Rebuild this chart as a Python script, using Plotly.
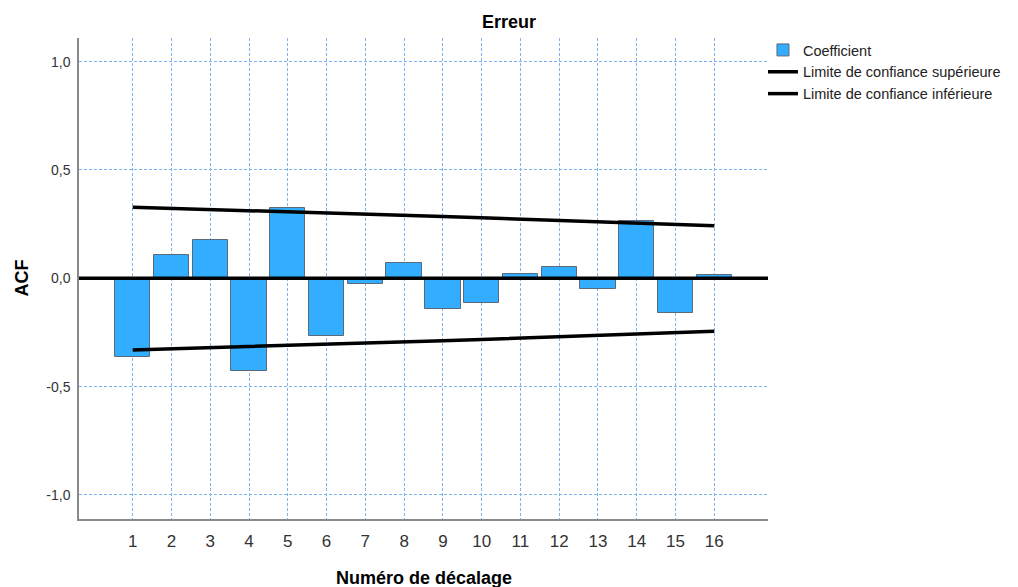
import plotly.graph_objects as go

# Autocorrelation of the error series, lags 1..16
lags = list(range(1, 17))
acf = [-0.365, 0.108, 0.178, -0.426, 0.323, -0.268, -0.028, 0.071,
       -0.143, -0.115, 0.020, 0.054, -0.048, 0.264, -0.162, 0.014]
upper_limit = [0.328, 0.323, 0.318, 0.313, 0.307, 0.302, 0.296, 0.291,
               0.285, 0.279, 0.273, 0.267, 0.261, 0.255, 0.249, 0.243]
lower_limit = [-0.331, -0.326, -0.321, -0.316, -0.310, -0.305, -0.299, -0.294,
               -0.288, -0.282, -0.276, -0.270, -0.264, -0.258, -0.251, -0.245]

y_tick_vals = [-1.0, -0.5, 0.0, 0.5, 1.0]
y_tick_text = ["-1,0", "-0,5", "0,0", "0,5", "1,0"]
x_tick_text = [str(v) for v in lags]

FONT = "Liberation Sans, Arial, sans-serif"
GRID = "#7fb3ee"
BAR = "#33adff"

fig = go.Figure()
fig.add_trace(go.Bar(
    x=lags, y=acf, name="Coefficient", width=0.91,
    marker=dict(color=BAR, line=dict(color="#5a6a78", width=1)),
))
fig.add_trace(go.Scatter(
    x=lags, y=upper_limit, mode="lines", name="Limite de confiance supérieure",
    line=dict(color="black", width=3.5),
))
fig.add_trace(go.Scatter(
    x=lags, y=lower_limit, mode="lines", name="Limite de confiance inférieure",
    line=dict(color="black", width=3.5),
))

# reference line at zero across the whole plot
fig.add_shape(type="line", xref="paper", x0=0, x1=1, yref="y", y0=0, y1=0,
              line=dict(color="black", width=3.5), layer="above")

fig.update_layout(
    width=1018, height=587,
    margin=dict(l=79, r=250, t=38, b=68, pad=0, autoexpand=False),
    paper_bgcolor="white", plot_bgcolor="white",
    font=dict(family=FONT, color="#222"),
    title=dict(text="<b>Erreur</b>", x=0.5, xref="container", xanchor="center",
               y=1 - 22 / 587, yref="container", yanchor="middle",
               font=dict(size=18, color="black", family=FONT)),
    showlegend=True,
    legend=dict(x=0.9927, xanchor="left", y=1.0 + 4 / 481, yanchor="top",
                font=dict(size=14.5, color="#222", family=FONT),
                bgcolor="rgba(0,0,0,0)", borderwidth=0, tracegroupgap=0),
    bargap=0,
    xaxis=dict(range=[-0.385, 17.385], tickvals=lags, ticktext=x_tick_text,
               showgrid=True, gridcolor=GRID, griddash="3px,2px", gridwidth=1,
               zeroline=False, showline=True, linecolor="#8a8a8a", linewidth=1.5,
               ticks="outside", ticklen=6, tickcolor="rgba(0,0,0,0)",
               tickfont=dict(size=17, color="#333"), fixedrange=True),
    yaxis=dict(range=[-1.111, 1.109], tickvals=y_tick_vals, ticktext=y_tick_text,
               showgrid=True, gridcolor=GRID, griddash="3px,2px", gridwidth=1,
               zeroline=False, showline=True, linecolor="#8a8a8a", linewidth=1.5,
               ticks="outside", ticklen=4, tickcolor="rgba(0,0,0,0)",
               tickfont=dict(size=14, color="#333"), fixedrange=True),
    annotations=[
        dict(text="<b>ACF</b>", xref="paper", yref="paper", x=-79 / 689 + 21 / 689,
             y=0.5, xanchor="center", yanchor="middle", textangle=-90,
             showarrow=False, font=dict(size=18, color="black", family=FONT)),
        dict(text="<b>Numéro de décalage</b>", xref="paper", yref="paper", x=0.5,
             y=-(578 - 519) / 481, xanchor="center", yanchor="middle",
             showarrow=False, font=dict(size=18, color="black", family=FONT)),
    ],
)

fig.write_html("out.html")
